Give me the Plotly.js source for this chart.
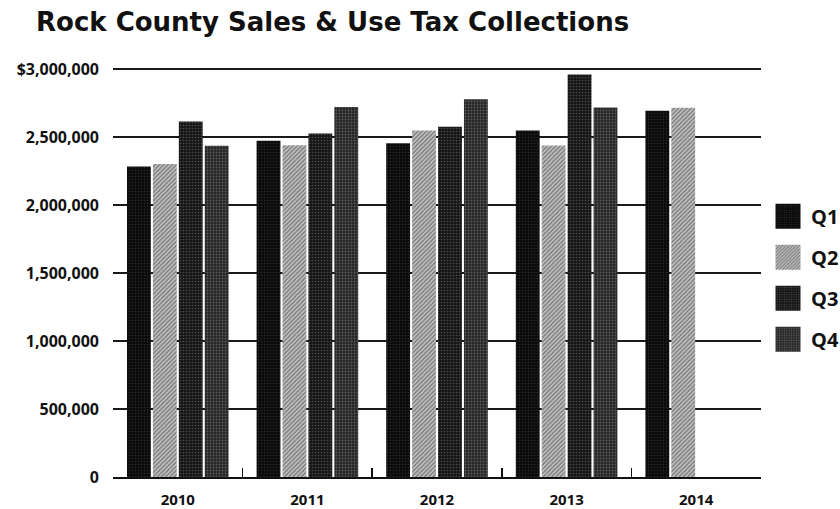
<!DOCTYPE html>
<html>
<head>
<meta charset="utf-8">
<script src="https://cdn.plot.ly/plotly-3.0.1.min.js"></script>
<style>html,body{margin:0;padding:0;background:#fff;}#chart{width:840px;height:509px;}</style>
</head>
<body>
<div id="chart"></div>
<script>
const years = ["2010", "2011", "2012", "2013", "2014"];
const q1 = [2284000, 2472000, 2455000, 2548000, 2694000];
const q2 = [2301000, 2440000, 2548000, 2438000, 2716000];
const q3 = [2614000, 2526000, 2575000, 2960000, null];
const q4 = [2436000, 2721000, 2777000, 2718000, null];
const seriesNames = ["Q1", "Q2", "Q3", "Q4"];
const yTickVals = [0, 500000, 1000000, 1500000, 2000000, 2500000, 3000000];
const yTickText = ["0", "500,000", "1,000,000", "1,500,000", "2,000,000", "2,500,000", "$3,000,000"];

const FONT = "Open Sans, Lato, sans-serif";
const styles = [
  {color: "#0b0b0b", pattern: {shape: ".", bgcolor: "#0b0b0b", fgcolor: "#2a2a2a", size: 3, solidity: 0.2}},
  {color: "#b4b4b4", pattern: {shape: "/", bgcolor: "#c2c2c2", fgcolor: "#7a7a7a", size: 3, solidity: 0.45}},
  {color: "#1c1c1c", pattern: {shape: ".", bgcolor: "#161616", fgcolor: "#4a4a4a", size: 3, solidity: 0.25}},
  {color: "#2c2c2c", pattern: {shape: ".", bgcolor: "#262626", fgcolor: "#5a5a5a", size: 3, solidity: 0.3}}
];
const values = [q1, q2, q3, q4];

const traces = values.map((v, i) => ({
  type: "bar",
  name: seriesNames[i],
  x: years,
  y: v,
  legendgroup: seriesNames[i],
  marker: {color: styles[i].color, pattern: styles[i].pattern, line: {width: 0}},
  hoverinfo: "x+y+name"
}));

const layout = {
  width: 840, height: 509,
  paper_bgcolor: "#fff", plot_bgcolor: "#fff",
  margin: {l: 113, r: 79, t: 67, b: 32, pad: 0},
  barmode: "group",
  bargap: 0.2,
  bargroupgap: 0.08,
  title: {
    text: "Rock County Sales & Use Tax Collections",
    x: 36 / 840, xanchor: "left",
    y: 1 - 22 / 509, yanchor: "middle",
    font: {family: "DejaVu Sans, sans-serif", size: 26, weight: 700, color: "#111"}
  },
  xaxis: {
    type: "category",
    range: [-0.5, 4.5],
    showline: true, linecolor: "#111", linewidth: 1.5,
    ticks: "inside", tickson: "boundaries", ticklen: 9, tickwidth: 1.5, tickcolor: "#111",
    showgrid: false,
    ticklabelstandoff: 8,
    tickfont: {family: FONT, size: 15, weight: 700, color: "#111"}
  },
  yaxis: {
    range: [0, 3015000],
    tickvals: yTickVals, ticktext: yTickText,
    showgrid: true, gridcolor: "#1a1a1a", gridwidth: 1.5,
    zeroline: false, showline: false, ticks: "",
    ticklabelstandoff: 13,
    tickfont: {family: FONT, size: 16, weight: 700, color: "#111"}
  },
  showlegend: true,
  legend: {
    x: 765 / 840, xanchor: "left",
    y: 0.486, yanchor: "middle",
    xref: "container",
    traceorder: "grouped",
    tracegroupgap: 12,
    itemwidth: 36,
    font: {family: FONT, size: 20, weight: 700, color: "#111"},
    bgcolor: "rgba(0,0,0,0)"
  }
};

Plotly.newPlot("chart", traces, layout, {displayModeBar: false, staticPlot: true}).then(gd => {
  const items = gd.querySelectorAll(".legend .traces");
  items.forEach(item => {
    const p = item.querySelector(".legendpoints path");
    const t = item.querySelector("text");
    if (!p || !t) return;
    p.setAttribute("d", "M12.5,12.5H-12.5V-12.5H12.5Z");
    p.removeAttribute("transform");
    const pr = p.getBoundingClientRect();
    const tr = t.getBoundingClientRect();
    const cx = pr.left + pr.width / 2;
    const dx = (tr.left - 23) - cx;
    p.setAttribute("transform", "translate(" + dx + ",0)");
  });
});
</script>
</body>
</html>
